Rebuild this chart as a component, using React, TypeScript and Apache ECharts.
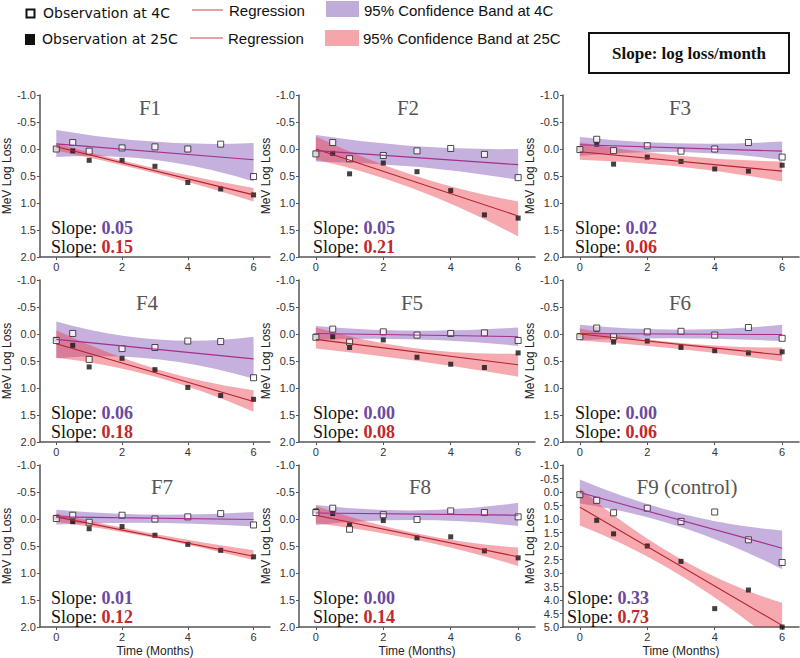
import React, { useEffect, useRef } from 'react';
import * as echarts from 'echarts';

// ---------- data ----------
const months = [0, 0.5, 1, 2, 3, 4, 5, 6];
const panelNames = ['F1', 'F2', 'F3', 'F4', 'F5', 'F6', 'F7', 'F8', 'F9 (control)'];

const obs4C = [
  [0.0, -0.12, 0.04, -0.02, -0.04, 0.0, -0.09, 0.51],
  [0.09, -0.12, 0.18, 0.12, 0.035, -0.01, 0.1, 0.53],
  [0.01, -0.18, 0.03, -0.06, 0.04, 0.0, -0.12, 0.15],
  [0.12, -0.01, 0.47, 0.27, 0.25, 0.13, 0.14, 0.81],
  [0.06, -0.09, 0.15, -0.04, 0.02, -0.01, -0.02, 0.12],
  [0.05, -0.11, 0.05, -0.04, -0.05, 0.02, -0.12, 0.08],
  [-0.01, -0.07, 0.06, -0.07, 0.0, -0.04, -0.1, 0.11],
  [-0.12, -0.2, 0.19, -0.08, 0.01, -0.15, -0.12, -0.04],
  [0.1, 0.31, 0.77, 0.6, 1.09, 0.74, 1.77, 2.61],
];
const obs25C = [
  [0.0, 0.035, 0.21, 0.21, 0.32, 0.62, 0.74, 0.85],
  [0.08, 0.08, 0.46, 0.26, 0.42, 0.77, 1.22, 1.28],
  [0.0, -0.09, 0.28, 0.15, 0.23, 0.37, 0.41, 0.3],
  [0.1, 0.21, 0.61, 0.45, 0.66, 0.99, 1.14, 1.21],
  [0.04, 0.05, 0.25, 0.11, 0.43, 0.56, 0.62, 0.35],
  [0.03, -0.09, 0.15, 0.13, 0.25, 0.31, 0.35, 0.33],
  [-0.03, 0.05, 0.18, 0.14, 0.3, 0.47, 0.58, 0.7],
  [-0.15, -0.1, 0.11, 0.03, 0.35, 0.33, 0.59, 0.72],
  [0.13, 1.05, 1.55, 2.0, 2.57, 4.32, 3.63, 5.0],
];

const regX = [0, 6];
const reg4C = [
  [-0.095, 0.2], [0.03, 0.29], [-0.08, 0.04], [0.1, 0.46], [-0.01, 0.05],
  [-0.01, 0.01], [-0.04, 0.01], [-0.11, -0.07], [0.02, 2.08],
];
const reg25C = [
  [-0.04, 0.85], [0.0, 1.24], [0.05, 0.41], [0.18, 1.25], [0.1, 0.57],
  [0.0, 0.39], [-0.04, 0.69], [-0.07, 0.7], [0.56, 4.94],
];

const bandX = [0, 3, 6];
const band4CLo = [
  [-0.35, -0.13, -0.11], [-0.26, -0.05, 0.0], [-0.22, -0.1, -0.14],
  [-0.23, 0.1, 0.05], [-0.15, -0.06, -0.12], [-0.17, -0.08, -0.17],
  [-0.17, -0.08, -0.13], [-0.26, -0.16, -0.3], [-0.46, 0.8, 1.43],
];
const band4CHi = [
  [0.15, 0.2, 0.6], [0.23, 0.33, 0.57], [0.13, 0.06, 0.2],
  [0.45, 0.46, 0.83], [0.11, 0.1, 0.22], [0.11, 0.08, 0.13],
  [0.1, 0.07, 0.14], [0.11, 0.02, 0.13], [0.43, 1.3, 2.86],
];
const band25CLo = [
  [-0.1, 0.36, 0.72], [-0.23, 0.51, 0.97], [-0.12, 0.13, 0.23],
  [-0.07, 0.64, 1.04], [-0.12, 0.27, 0.36], [-0.1, 0.17, 0.25],
  [-0.1, 0.28, 0.58], [-0.24, 0.27, 0.53], [-0.13, 2.49, 4.1],
];
const band25CHi = [
  [0.03, 0.45, 0.97], [0.2, 0.76, 1.62], [0.2, 0.33, 0.6],
  [0.44, 0.79, 1.44], [0.27, 0.5, 0.79], [0.12, 0.28, 0.51],
  [0.05, 0.35, 0.76], [0.08, 0.39, 0.87], [1.24, 3.1, 5.8],
];

const slope4C = ['0.05', '0.05', '0.02', '0.06', '0.00', '0.00', '0.01', '0.00', '0.33'];
const slope25C = ['0.15', '0.21', '0.06', '0.18', '0.08', '0.06', '0.12', '0.14', '0.73'];
const yMaxes = [2, 2, 2, 2, 2, 2, 2, 2, 5];
const xTickValues = [0, 2, 4, 6];

// ---------- layout / style ----------
const colLeft = [34, 299, 563];
const rowTop = [95, 280, 465];
const gridW = 236;
const gridH = 162;
const titlePos = [
  [150, 108], [408, 108], [680, 108],
  [147, 303], [412, 303], [680, 303],
  [162, 487], [420, 487], [687, 487],
];
const slopeLeft = [51, 313, 575, 51, 313, 575, 51, 313, 567];

const SANS = 'Liberation Sans, Arial, sans-serif';
const SERIF = 'Liberation Serif, Times New Roman, serif';
const PURPLE_BAND = 'rgba(128, 80, 180, 0.45)';
const PINK_BAND = 'rgba(236, 64, 76, 0.45)';
const LINE_4C = '#a3308f';
const LINE_25C = '#b52030';
const AXIS = '#555';

// A band shape: two smooth edges (quadratic curve through three read points each)
const BandShape = (echarts.graphic as any).extendShape({
  type: 'band',
  shape: { upper: [] as number[][], lower: [] as number[][] },
  buildPath(ctx: any, shape: any) {
    const u = shape.upper;
    const l = shape.lower;
    if (!u || u.length < 3) return;
    const curve = (p: number[][], first: boolean) => {
      const cx = 2 * p[1][0] - (p[0][0] + p[2][0]) / 2;
      const cy = 2 * p[1][1] - (p[0][1] + p[2][1]) / 2;
      if (first) ctx.moveTo(p[0][0], p[0][1]);
      else ctx.lineTo(p[0][0], p[0][1]);
      ctx.quadraticCurveTo(cx, cy, p[2][0], p[2][1]);
    };
    curve(u, true);
    curve(l, false);
    ctx.closePath();
  },
});
(echarts.graphic as any).registerShape('band', BandShape);

function bandSeries(i: number, lo: number[], hi: number[], fill: string) {
  return {
    type: 'custom',
    xAxisIndex: i,
    yAxisIndex: i,
    silent: true,
    clip: true,
    data: [[0]],
    renderItem: (_params: any, api: any) => {
      const upper = bandX.map((x, k) => api.coord([x, hi[k]]));
      const lower = bandX.map((x, k) => api.coord([x, lo[k]])).reverse();
      return {
        type: 'band',
        shape: { upper, lower },
        style: { fill },
      };
    },
  };
}

function buildOption() {
  const grid: any[] = [];
  const xAxis: any[] = [];
  const yAxis: any[] = [];
  const series: any[] = [];
  const graphic: any[] = [];

  for (let i = 0; i < 9; i++) {
    const row = Math.floor(i / 3);
    const col = i % 3;
    grid.push({ left: colLeft[col], top: rowTop[row], width: gridW, height: gridH, containLabel: false });
    xAxis.push({
      gridIndex: i,
      type: 'value',
      min: -0.5,
      max: 6.5,
      axisLine: { onZero: false, lineStyle: { color: AXIS, width: 1.5 } },
      axisTick: { customValues: xTickValues, length: 3, lineStyle: { color: AXIS } },
      axisLabel: { customValues: xTickValues, fontSize: 11, color: '#333', margin: 4, fontFamily: SANS },
      splitLine: { show: false },
      name: row === 2 ? 'Time (Months)' : '',
      nameLocation: 'middle',
      nameGap: 18,
      nameTextStyle: { fontSize: 12, color: '#222', fontFamily: SANS },
    });
    yAxis.push({
      gridIndex: i,
      type: 'value',
      inverse: true,
      min: -1,
      max: yMaxes[i],
      interval: 0.5,
      axisLine: { onZero: false, lineStyle: { color: AXIS, width: 1.5 } },
      axisTick: { length: 3, lineStyle: { color: AXIS } },
      axisLabel: {
        fontSize: 11, color: '#333', margin: 4, fontFamily: SANS,
        formatter: (v: number) => v.toFixed(1),
      },
      splitLine: { show: false },
      name: 'MeV Log Loss',
      nameLocation: 'middle',
      nameGap: 22,
      nameTextStyle: { fontSize: 12, color: '#222', fontFamily: SANS },
    });

    const common = { xAxisIndex: i, yAxisIndex: i, silent: true };
    series.push(bandSeries(i, band4CLo[i], band4CHi[i], PURPLE_BAND));
    series.push(bandSeries(i, band25CLo[i], band25CHi[i], PINK_BAND));
    series.push({
      ...common, type: 'line', symbol: 'none', lineStyle: { color: LINE_25C, width: 1.1 },
      data: regX.map((x, k) => [x, reg25C[i][k]]),
    });
    series.push({
      ...common, type: 'line', symbol: 'none', lineStyle: { color: LINE_4C, width: 1.1 },
      data: regX.map((x, k) => [x, reg4C[i][k]]),
    });
    series.push({
      ...common, type: 'scatter', symbol: 'rect', symbolSize: 5,
      itemStyle: { color: '#111' },
      data: months.map((x, k) => [x, obs25C[i][k]]),
    });
    series.push({
      ...common, type: 'scatter', symbol: 'rect', symbolSize: 6,
      itemStyle: { color: '#fff', borderColor: '#222', borderWidth: 1 },
      data: months.map((x, k) => [x, obs4C[i][k]]),
    });

    graphic.push({
      type: 'text', x: titlePos[i][0], y: titlePos[i][1], z: 10,
      style: {
        text: panelNames[i], fontFamily: SERIF, fontSize: 21, fill: '#555',
        align: 'center', verticalAlign: 'middle',
      },
    });
    const sy = rowTop[row] + 133;
    const rich = (c: string) => ({
      a: { fontFamily: SERIF, fontSize: 18, fill: '#111' },
      b: { fontFamily: SERIF, fontSize: 18, fontWeight: 'bold', fill: c },
    });
    graphic.push({
      type: 'text', x: slopeLeft[i], y: sy, z: 10,
      style: { text: '{a|Slope: }{b|' + slope4C[i] + '}', rich: rich('#6b4a9e'), verticalAlign: 'middle' },
    });
    graphic.push({
      type: 'text', x: slopeLeft[i], y: sy + 19, z: 10,
      style: { text: '{a|Slope: }{b|' + slope25C[i] + '}', rich: rich('#c0282d'), verticalAlign: 'middle' },
    });
  }

  const legendFont = { fontFamily: 'DejaVu Sans, Verdana, sans-serif', fontSize: 14, fill: '#111' };
  const legendFont2 = { fontFamily: SANS, fontSize: 15, fill: '#111' };
  graphic.push(
    { type: 'rect', shape: { x: 26.5, y: 9.5, width: 8, height: 8 }, style: { fill: '#fff', stroke: '#111', lineWidth: 2 } },
    { type: 'text', x: 43, y: 13, style: { ...legendFont, text: 'Observation at 4C', verticalAlign: 'middle' } },
    { type: 'line', shape: { x1: 192, y1: 10, x2: 223, y2: 10 }, style: { stroke: '#d9888a', lineWidth: 1.5 } },
    { type: 'text', x: 229, y: 10, style: { ...legendFont2, text: 'Regression', verticalAlign: 'middle' } },
    { type: 'rect', shape: { x: 326, y: 1, width: 33, height: 16 }, style: { fill: '#c0acd8' } },
    { type: 'text', x: 364, y: 10, style: { ...legendFont2, text: '95% Confidence Band at 4C', verticalAlign: 'middle' } },

    { type: 'rect', shape: { x: 25, y: 34, width: 10, height: 11 }, style: { fill: '#111' } },
    { type: 'text', x: 42, y: 39, style: { ...legendFont, text: 'Observation at 25C', verticalAlign: 'middle' } },
    { type: 'line', shape: { x1: 190, y1: 38, x2: 223, y2: 38 }, style: { stroke: '#d9888a', lineWidth: 1.5 } },
    { type: 'text', x: 228, y: 38, style: { ...legendFont2, text: 'Regression', verticalAlign: 'middle' } },
    { type: 'rect', shape: { x: 325, y: 30, width: 34, height: 16 }, style: { fill: '#f4a6aa' } },
    { type: 'text', x: 363, y: 38, style: { ...legendFont2, text: '95% Confidence Band at 25C', verticalAlign: 'middle' } },

    { type: 'rect', shape: { x: 589, y: 33, width: 200, height: 40 }, style: { fill: '#fff', stroke: '#111', lineWidth: 2 } },
    {
      type: 'text', x: 689, y: 53,
      style: {
        text: 'Slope: log loss/month', fontFamily: SERIF, fontSize: 17, fontWeight: 'bold',
        fill: '#111', align: 'center', verticalAlign: 'middle',
      },
    },
  );

  return {
    animation: false,
    backgroundColor: '#fff',
    grid, xAxis, yAxis, series, graphic,
  };
}

export default function App() {
  const ref = useRef<HTMLDivElement>(null);
  useEffect(() => {
    if (!ref.current) return;
    const chart = echarts.init(ref.current, undefined, { renderer: 'svg' });
    chart.setOption(buildOption() as any);
    return () => chart.dispose();
  }, []);
  return (
    <div
      ref={ref}
      style={{ position: 'fixed', left: 0, top: 0, width: 800, height: 658, background: '#fff' }}
    />
  );
}
